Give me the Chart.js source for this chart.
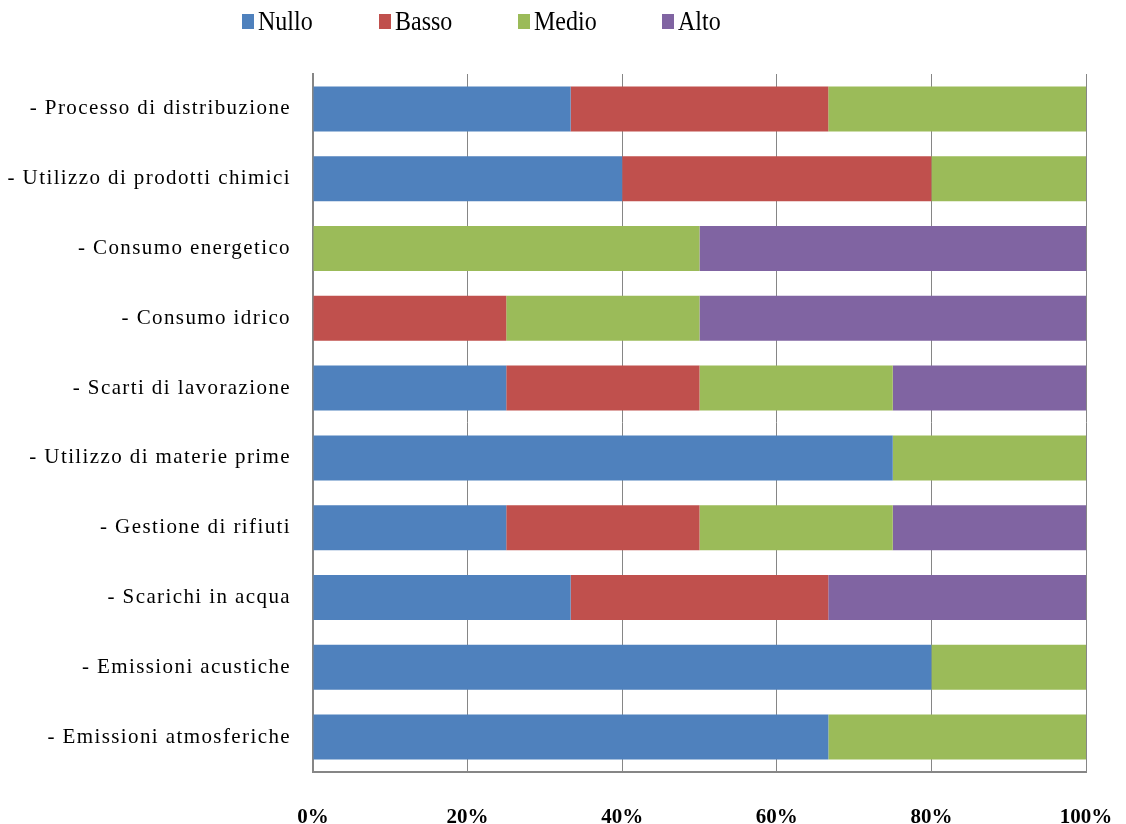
<!DOCTYPE html>
<html>
<head>
<meta charset="utf-8">
<script src="https://cdn.jsdelivr.net/npm/chart.js@4/dist/chart.umd.min.js"></script>
<style>
  html, body { margin: 0; padding: 0; background: #fff; }
  #wrap { position: relative; width: 1126px; height: 824px; overflow: hidden; }
  #legend { position: absolute; left: 0; top: 0; width: 1126px; height: 44px;
            font-family: "Liberation Serif", "Times New Roman", serif; font-size: 24px; color: #000; }
  .item { position: absolute; top: 7px; display: flex; align-items: center; line-height: 28px; }
  .box { width: 12px; height: 15px; margin-right: 4px; }
  .txt { display: inline-block; transform: scaleY(1.15); transform-origin: 50% 50%; }
</style>
</head>
<body>
<div id="wrap">
  <canvas id="c" width="1126" height="824"></canvas>
  <div id="legend"></div>
</div>
<script>
const categories = [
  "- Processo di distribuzione",
  "- Utilizzo di prodotti chimici",
  "- Consumo energetico",
  "- Consumo idrico",
  "- Scarti di lavorazione",
  "- Utilizzo di materie prime",
  "- Gestione di rifiuti",
  "- Scarichi in acqua",
  "- Emissioni acustiche",
  "- Emissioni atmosferiche"
];
const seriesNames = ["Nullo", "Basso", "Medio", "Alto"];
const nullo = [33.33, 40, 0, 0, 25, 75, 25, 33.33, 80, 66.67];
const basso = [33.33, 40, 0, 25, 25, 0, 25, 33.33, 0, 0];
const medio = [33.34, 20, 50, 25, 25, 25, 25, 0, 20, 33.33];
const alto  = [0, 0, 50, 50, 25, 0, 25, 33.34, 0, 0];
const xTicks = [0, 20, 40, 60, 80, 100];
const colors = ["#4F81BD", "#C0504D", "#9BBB59", "#8064A2"];
const legendLeft = [242, 379, 518, 662];

const values = [nullo, basso, medio, alto];
const datasets = seriesNames.map((name, i) => ({
  label: name,
  data: values[i],
  backgroundColor: colors[i],
  borderWidth: 0,
  categoryPercentage: 1.0,
  barPercentage: 0.645
}));

// HTML legend
const legendEl = document.getElementById('legend');
seriesNames.forEach((name, i) => {
  const it = document.createElement('div');
  it.className = 'item';
  it.style.left = legendLeft[i] + 'px';
  const b = document.createElement('span');
  b.className = 'box';
  b.style.background = colors[i];
  const t = document.createElement('span');
  t.className = 'txt';
  t.textContent = name;
  it.appendChild(b); it.appendChild(t);
  legendEl.appendChild(it);
});

// letter spacing only for the category labels (drawn in a layer after the datasets)
const spacing = {
  id: 'spacing',
  afterDatasetsDraw(chart) { try { chart.ctx.letterSpacing = '1.4px'; } catch (e) {} },
  afterDraw(chart) { try { chart.ctx.letterSpacing = '0px'; } catch (e) {} }
};

new Chart(document.getElementById('c'), {
  type: 'bar',
  data: { labels: categories, datasets },
  plugins: [spacing],
  options: {
    indexAxis: 'y',
    responsive: false,
    animation: false,
    layout: { padding: { left: 0, right: 40, top: 74, bottom: 0 } },
    plugins: { legend: { display: false }, tooltip: { enabled: false } },
    scales: {
      x: {
        stacked: true,
        min: 0, max: 100,
        afterBuildTicks(scale) { scale.ticks = xTicks.map(v => ({ value: v })); },
        afterFit(scale) { scale.height = 52; scale.paddingLeft = 0; scale.paddingRight = 0; },
        grid: { color: '#868686', lineWidth: 1, drawTicks: false },
        border: { color: '#868686', width: 2 },
        ticks: {
          padding: 33,
          color: '#000',
          font: { family: '"Liberation Serif", "Times New Roman", serif', size: 21, weight: 'bold' },
          callback: v => v + '%'
        }
      },
      y: {
        stacked: true,
        afterFit(scale) { scale.width = 313; scale.paddingTop = 0; scale.paddingBottom = 0; },
        grid: { display: false, drawTicks: false },
        border: { color: '#868686', width: 2 },
        ticks: {
          z: 1,
          padding: 22,
          color: '#000',
          font: { family: '"Liberation Serif", "Times New Roman", serif', size: 21 }
        }
      }
    }
  }
});
</script>
</body>
</html>
